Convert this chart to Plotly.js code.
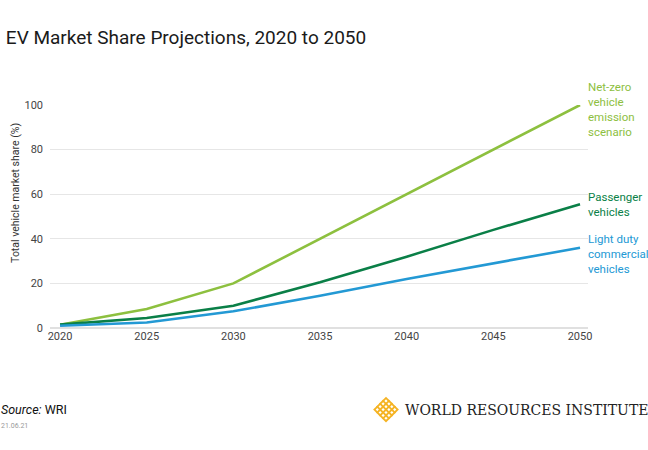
<!DOCTYPE html>
<html>
<head>
<meta charset="utf-8">
<script src="https://cdn.plot.ly/plotly-3.0.1.min.js"></script>
<style>
html,body{margin:0;padding:0;background:#fff;}
#chart{width:648px;height:450px;}
</style>
</head>
<body>
<div id="chart"></div>
<script>
const years = [2020, 2025, 2030, 2035, 2040, 2045, 2050];
const netZero = [1.5, 8.5, 20, 40, 60, 80, 100];
const passenger = [1.5, 4.5, 10, 20.5, 32, 44, 55.5];
const lightDuty = [1, 2.5, 7.5, 14.5, 22, 29, 36];
const seriesNames = ["Net-zero<br>vehicle<br>emission<br>scenario", "Passenger<br>vehicles", "Light duty<br>commercial<br>vehicles"];
const xTicks = [2020, 2025, 2030, 2035, 2040, 2045, 2050];
const yTicks = [0, 20, 40, 60, 80, 100];

const colors = ["#8dc03f", "#0a7f47", "#2399d4"];
const FONT = "Roboto, 'Liberation Sans', sans-serif";

// plot area in pixels
const L = 50, R = 588, T = 105, B = 328.3;
const W = 648, H = 450;
const px = x => (x - L) / (R - L);
const py = y => (B - y) / (B - T);

const series = [netZero, passenger, lightDuty];
const traces = series.map((s, i) => ({
  x: years, y: s, type: "scatter", mode: "lines",
  line: {color: colors[i], width: 2.6},
  hoverinfo: "skip", showlegend: false, cliponaxis: false
}));

const labelY = [110, 205, 254];
const annotations = seriesNames.map((n, i) => ({
  xref: "paper", yref: "paper", x: px(586), y: py(labelY[i]),
  xanchor: "left", yanchor: "middle", align: "left",
  text: n, showarrow: false,
  font: {family: FONT, size: 11.5, color: colors[i]}
}));

annotations.push({
  xref: "paper", yref: "paper", x: px(16), y: py(193),
  text: "Total vehicle market share (%)", textangle: -90, showarrow: false,
  xanchor: "center", yanchor: "middle",
  font: {family: FONT, size: 10.5, color: "#333"}
});
annotations.push({
  xref: "paper", yref: "paper", x: px(-1), y: py(410),
  xanchor: "left", yanchor: "middle", align: "left",
  text: "<i>Source:</i> WRI", showarrow: false,
  font: {family: FONT, size: 12.5, color: "#111"}
});
annotations.push({
  xref: "paper", yref: "paper", x: px(-1), y: py(426),
  xanchor: "left", yanchor: "middle", align: "left",
  text: "21.06.21", showarrow: false,
  font: {family: FONT, size: 7, color: "#999"}
});
annotations.push({
  xref: "paper", yref: "paper", x: px(403), y: py(410),
  xanchor: "left", yanchor: "middle", align: "left",
  text: "WORLD RESOURCES INSTITUTE", showarrow: false,
  font: {family: "'DejaVu Serif', 'Liberation Serif', serif", size: 14, color: "#222"}
});

// WRI logo: lattice of small diamonds
const shapes = [];
const cx = 386, cy = 410, s = 2.9;
for (let i = 0; i < 4; i++) {
  for (let j = 0; j < 4; j++) {
    const x0 = cx + (i - j) * s;
    const y0 = cy + (i + j - 3) * s;
    const d = s * 1.45;
    const path = `M ${px(x0)} ${py(y0 - d)} L ${px(x0 + d)} ${py(y0)} L ${px(x0)} ${py(y0 + d)} L ${px(x0 - d)} ${py(y0)} Z`;
    shapes.push({type: "path", xref: "paper", yref: "paper", path: path,
      fillcolor: "#f5b323", line: {width: 0}, layer: "above"});
  }
}
for (let i = 0; i < 4; i++) {
  for (let j = 0; j < 4; j++) {
    const x0 = cx + (i - j) * s;
    const y0 = cy + (i + j - 3) * s;
    const d = s * 0.55;
    const path = `M ${px(x0)} ${py(y0 - d)} L ${px(x0 + d)} ${py(y0)} L ${px(x0)} ${py(y0 + d)} L ${px(x0 - d)} ${py(y0)} Z`;
    shapes.push({type: "path", xref: "paper", yref: "paper", path: path,
      fillcolor: "#ffffff", line: {width: 0}, layer: "above"});
  }
}

const layout = {
  width: W, height: H,
  margin: {l: L, r: W - R, t: T, b: H - B, pad: 0},
  paper_bgcolor: "#fff", plot_bgcolor: "#fff",
  title: {text: "EV Market Share Projections, 2020 to 2050", x: 0.009, xanchor: "left",
    y: 1 - 37 / H, yanchor: "middle",
    font: {family: FONT, size: 19, color: "#1a1a1a"}},
  xaxis: {range: [2019.42, 2050.46], tickvals: xTicks, ticktext: xTicks.map(String),
    showgrid: false, zeroline: false, showline: false, ticks: "",
    tickfont: {family: FONT, size: 11, color: "#444"}, fixedrange: true},
  yaxis: {range: [0, 100], tickvals: yTicks, ticktext: yTicks.map(String),
    showgrid: true, gridcolor: "#e6e6e6", gridwidth: 1, zeroline: true, zerolinecolor: "#e0e0e0", zerolinewidth: 1.5,
    showline: false, ticks: "", ticklabelstandoff: 6,
    tickfont: {family: FONT, size: 11, color: "#444"}, fixedrange: true},
  annotations: annotations,
  shapes: shapes,
  showlegend: false
};

Plotly.newPlot("chart", traces, layout, {displayModeBar: false, staticPlot: true});
</script>
</body>
</html>
